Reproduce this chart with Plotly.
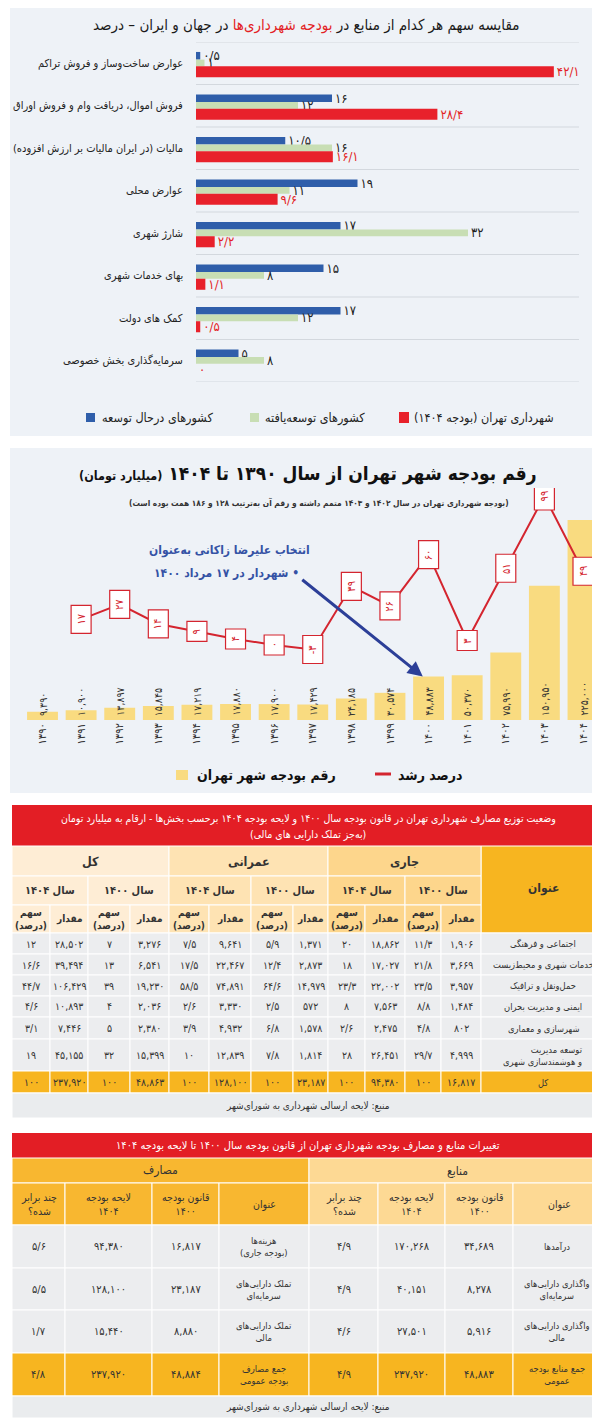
import plotly.graph_objects as go

W, H = 600, 1422
FONT = "DejaVu Sans Condensed, DejaVu Sans, sans-serif"

# ---------------- data: chart 1 (share of each source, percent) ----------------
c1_categories = [
    "عوارض ساخت‌وساز و فروش تراکم",
    "فروش اموال، دریافت وام و فروش اوراق",
    "مالیات (در ایران مالیات بر ارزش افزوده)",
    "عوارض محلی",
    "شارژ شهری",
    "بهای خدمات شهری",
    "کمک های دولت",
    "سرمایه‌گذاری بخش خصوصی",
]
c1_developing = [0.5, 16, 10.5, 19, 17, 15, 17, 5]
c1_developed = [1, 12, 16, 11, 32, 8, 12, 8]
c1_tehran = [42.1, 28.4, 16.1, 9.6, 2.2, 1.1, 0.5, 0]
c1_names = ["کشورهای درحال توسعه", "کشورهای توسعه‌یافته", "شهرداری تهران (بودجه ۱۴۰۴)"]

# ---------------- data: chart 2 (Tehran budget) ----------------
c2_years = [1390, 1391, 1392, 1393, 1394, 1395, 1396, 1397, 1398, 1399, 1400, 1401, 1402, 1403, 1404]
c2_budget = [9390, 10900, 13897, 15845, 17219, 17880, 17900, 17429, 24185, 30574, 48883, 50370, 75990, 150950, 225000]
c2_growth_years = [1391, 1392, 1393, 1394, 1395, 1396, 1397, 1398, 1399, 1400, 1401, 1402, 1403, 1404]
c2_growth = [17, 27, 14, 9, 4, 0, -3, 39, 26, 60, 3, 51, 99, 49]
c2_names = ["رقم بودجه شهر تهران", "درصد رشد"]

# ---------------- data: table 1 ----------------
t1_rows = ["اجتماعی و فرهنگی", "خدمات شهری و محیط‌زیست", "حمل‌ونقل و ترافیک",
           "ایمنی و مدیریت بحران", "شهرسازی و معماری", "توسعه مدیریت<br>و هوشمندسازی شهری", "کل"]
t1_jari_1400_amount = [1906, 3669, 3957, 1484, 802, 4999, 16817]
t1_jari_1400_share = [11.3, 21.8, 23.5, 8.8, 4.8, 29.7, 100]
t1_jari_1404_amount = [18862, 17027, 22002, 7563, 2475, 26451, 94380]
t1_jari_1404_share = [20, 18, 23.3, 8, 2.6, 28, 100]
t1_omrani_1400_amount = [1371, 2873, 14979, 572, 1578, 1814, 23187]
t1_omrani_1400_share = [5.9, 12.4, 64.6, 2.5, 6.8, 7.8, 100]
t1_omrani_1404_amount = [9641, 22467, 74891, 3330, 4932, 12839, 128100]
t1_omrani_1404_share = [7.5, 17.5, 58.5, 2.6, 3.9, 10, 100]
t1_kol_1400_amount = [3276, 6541, 19230, 2036, 2380, 15399, 48863]
t1_kol_1400_share = [7, 13, 39, 4, 5, 32, 100]
t1_kol_1404_amount = [28502, 39494, 106429, 10893, 7446, 45155, 237920]
t1_kol_1404_share = [12, 16.6, 44.7, 4.6, 3.1, 19, 100]

# ---------------- data: table 2 ----------------
t2_src_titles = ["درآمدها", "واگذاری دارایی‌های<br>سرمایه‌ای", "واگذاری دارایی‌های<br>مالی", "جمع منابع بودجه<br>عمومی"]
t2_src_1400 = [34689, 8278, 5916, 48883]
t2_src_1404 = [170268, 40151, 27501, 237920]
t2_src_ratio = [4.9, 4.9, 4.6, 4.9]
t2_use_titles = ["هزینه‌ها<br>(بودجه جاری)", "تملک دارایی‌های<br>سرمایه‌ای", "تملک دارایی‌های<br>مالی", "جمع مصارف<br>بودجه عمومی"]
t2_use_1400 = [16817, 23187, 8880, 48884]
t2_use_1404 = [94380, 128100, 15440, 237920]
t2_use_ratio = [5.6, 5.5, 1.7, 4.8]

# ---------------- helpers ----------------
FA = str.maketrans("0123456789", "۰۱۲۳۴۵۶۷۸۹")


def fa(v, sep=True):
    if isinstance(v, float) and not v.is_integer():
        s = f"{v:.1f}".replace(".", "/")
    else:
        s = f"{int(v):,}" if sep else str(int(v))
    return s.translate(FA)


def rtl(s):
    return "<br>".join("\u200f" + p + "\u200f" for p in s.split("<br>"))


def px(x):
    return x / W


def py(y):
    return 1 - y / H


shapes, annos = [], []


def rect(x0, y0, x1, y1, fill, line=None, lw=0, layer="below"):
    shapes.append(dict(type="rect", xref="paper", yref="paper", x0=px(x0), x1=px(x1),
                       y0=py(y1), y1=py(y0), fillcolor=fill,
                       line=dict(color=line or fill, width=lw), layer=layer))


def text(x, y, s, size=11, color="#222", bold=False, xanchor="center", yanchor="middle", align="center", family=FONT):
    if bold:
        s = f"<b>{s}</b>"
    annos.append(dict(xref="paper", yref="paper", x=px(x), y=py(y), text=s, showarrow=False,
                      font=dict(family=family, size=size, color=color),
                      xanchor=xanchor, yanchor=yanchor, align=align))


BLUE, GREEN, RED = "#2f5eaa", "#c8deb4", "#e8212b"
YELLOW = "#f9db80"
LINE_RED = "#d4252f"
BG = "#eef2f7"

fig = go.Figure()

# ================= SECTION 1 =================
rect(2, 0, 598, 428, BG)
text(298, 17, rtl("مقایسه سهم هر کدام از منابع در <span style='color:#e31e25'>بودجه شهرداری‌ها</span> در جهان و ایران – درصد"),
     size=15, color="#1a1a1a")

rows = list(range(len(c1_categories)))
for vals, col, off, wd, tcol in [
    (c1_developing, BLUE, -0.266, 0.18, "#222"),
    (c1_developed, GREEN, -0.086, 0.156, "#222"),
    (c1_tehran, RED, 0.07, 0.26, "#e31e25"),
]:
    fig.add_trace(go.Bar(
        y=rows, x=vals, orientation="h", width=wd, offset=off, marker=dict(color=col, line=dict(width=0)),
        text=[fa(v) for v in vals], textposition="outside", textangle=0, constraintext="none",
        textfont=dict(family=FONT, size=13, color=tcol), cliponaxis=False,
        xaxis="x", yaxis="y", hoverinfo="skip"))

for i in range(len(c1_categories) + 1):
    shapes.append(dict(type="line", xref="x domain", yref="y", x0=0, x1=1, y0=i - 0.5, y1=i - 0.5,
                       line=dict(color="#d3d8de", width=1), layer="below"))
for i, c in enumerate(c1_categories):
    annos.append(dict(xref="paper", yref="y", x=px(177), y=i, text=rtl(c), showarrow=False,
                      xanchor="right", yanchor="middle", font=dict(family=FONT, size=11, color="#222")))

# legend 1
rect(78, 405, 87, 414, BLUE)
text(92, 410, rtl(c1_names[0]), size=12.5, xanchor="left")
rect(242, 405, 251, 414, GREEN)
text(255, 410, rtl(c1_names[1]), size=12.5, xanchor="left")
rect(391, 404, 401, 415, RED)
text(404, 410, rtl(c1_names[2]), size=12.5, xanchor="left")

# ================= SECTION 2 =================
rect(2, 440, 598, 785, BG)
text(300, 466, rtl("<b>رقم بودجه شهر تهران از سال ۱۳۹۰ تا ۱۴۰۴ <span style='font-size:12.5px'>(میلیارد تومان)</span></b>"),
     size=19, color="#111")
text(311, 495, rtl("(بودجه شهرداری تهران در سال ۱۴۰۲ و ۱۴۰۳ متمم داشته و رقم آن به‌ترتیب ۱۲۸ و ۱۸۶ همت بوده است)"),
     size=8.3, bold=True, color="#333")

fig.add_trace(go.Bar(x=c2_years, y=c2_budget, width=0.8, marker=dict(color=YELLOW, line=dict(width=0)),
                     xaxis="x2", yaxis="y2", hoverinfo="skip"))
fig.add_trace(go.Scatter(x=c2_growth_years, y=c2_growth, mode="lines", line=dict(color=LINE_RED, width=2),
                         xaxis="x2", yaxis="y3", hoverinfo="skip"))

for yr, v in zip(c2_years, c2_budget):
    annos.append(dict(xref="x2", yref="y2", x=yr, y=0, text=fa(v), showarrow=False, textangle=-90,
                      xanchor="center", yanchor="bottom", yshift=2,
                      font=dict(family=FONT, size=10.5, color="#333")))

for yr, g in zip(c2_growth_years, c2_growth):
    lab = fa(g) if g >= 0 else "-" + fa(-g)
    h = 28 if len(lab) > 1 else 20
    shapes.append(dict(type="rect", xref="x2", yref="y3", xsizemode="pixel", ysizemode="pixel",
                       xanchor=yr, yanchor=g, x0=-10, x1=10, y0=-h / 2, y1=h / 2,
                       fillcolor="white", line=dict(color=LINE_RED, width=1.2), layer="above"))
    annos.append(dict(xref="x2", yref="y3", x=yr, y=g, text=lab, showarrow=False, textangle=-90,
                      xanchor="center", yanchor="middle",
                      font=dict(family=FONT, size=11, color=LINE_RED)))

text(221, 542, rtl("انتخاب علیرضا زاکانی به‌عنوان"), size=12, bold=True, color="#3552a5")
text(293, 565, rtl("• شهردار در ۱۷ مرداد ۱۴۰۰"), size=12, bold=True, color="#3552a5", xanchor="right")
annos.append(dict(xref="x2", yref="y2", x=1399.85, y=48883, text="", showarrow=True,
                  ax=-122, ay=-98, axref="pixel", ayref="pixel",
                  arrowhead=2, arrowsize=1, arrowwidth=3, arrowcolor="#2c3f98"))

# legend 2
rect(168, 762, 180, 772, YELLOW)
text(187, 767, rtl(c2_names[0]), size=14, bold=True, xanchor="left", color="#111")
shapes.append(dict(type="line", xref="paper", yref="paper", x0=px(367), x1=px(383), y0=py(766), y1=py(766),
                   line=dict(color=LINE_RED, width=3)))
text(388, 767, rtl(c2_names[1]), size=14, bold=True, xanchor="left", color="#111")

# ================= TABLE 1 =================
T1_X = [4, 42, 80, 122, 161, 201, 243, 285, 320, 357, 397, 433, 473, 597]
BODY = "#ecedef"
AMBER = "#f7b520"
TRED = "#e31e25"
GRP = ["#feedd5", "#fee3b3", "#fdd68c"]  # کل ، عمرانی ، جاری

rect(T1_X[0], 797, T1_X[-1], 838, TRED)
text(300, 811, rtl("وضعیت توزیع مصارف شهرداری تهران در قانون بودجه سال ۱۴۰۰ و لایحه بودجه ۱۴۰۴ برحسب بخش‌ها - ارقام به میلیارد تومان"),
     size=10.5, color="white")
text(300, 826, rtl("(به‌جز تملک دارایی های مالی)"), size=10.5, color="white")

rect(T1_X[12], 838, T1_X[13], 925, AMBER, "white", 1)
text((T1_X[12] + T1_X[13]) / 2, 881, rtl("عنوان"), size=12, bold=True, color="#333")
grp_titles = ["کل", "عمرانی", "جاری"]
for g in range(3):
    x0, x1 = T1_X[4 * g], T1_X[4 * g + 4]
    rect(x0, 838, x1, 868, GRP[g], "white", 1)
    text((x0 + x1) / 2, 853, rtl(grp_titles[g]), size=12.5, bold=True, color="#333")
    for k, yl in enumerate(["سال ۱۴۰۴", "سال ۱۴۰۰"]):
        a, b = T1_X[4 * g + 2 * k], T1_X[4 * g + 2 * k + 2]
        rect(a, 868, b, 897, GRP[g], "white", 1)
        text((a + b) / 2, 882.5, rtl(yl), size=11, bold=True, color="#333")
        for j, lab in enumerate(["سهم<br>(درصد)", "مقدار"]):
            c0, c1 = T1_X[4 * g + 2 * k + j], T1_X[4 * g + 2 * k + j + 1]
            rect(c0, 897, c1, 925, GRP[g], "white", 1)
            text((c0 + c1) / 2, 911, rtl(lab), size=10, bold=True, color="#333")

t1_cols = [t1_kol_1404_share, t1_kol_1404_amount, t1_kol_1400_share, t1_kol_1400_amount,
           t1_omrani_1404_share, t1_omrani_1404_amount, t1_omrani_1400_share, t1_omrani_1400_amount,
           t1_jari_1404_share, t1_jari_1404_amount, t1_jari_1400_share, t1_jari_1400_amount]
T1_Y = [925, 946, 967, 988, 1009, 1031, 1063, 1085]
for r in range(len(t1_rows)):
    y0, y1 = T1_Y[r], T1_Y[r + 1]
    fill = AMBER if r == len(t1_rows) - 1 else BODY
    for c in range(12):
        rect(T1_X[c], y0, T1_X[c + 1], y1, fill, "white", 1)
        text((T1_X[c] + T1_X[c + 1]) / 2, (y0 + y1) / 2, fa(t1_cols[c][r]), size=10.5, color="#333")
    rect(T1_X[12], y0, T1_X[13], y1, fill, "white", 1)
    text((T1_X[12] + T1_X[13]) / 2, (y0 + y1) / 2, rtl(t1_rows[r]), size=9.3, color="#333", align="right")
rect(T1_X[0], 1085, T1_X[-1], 1110, "#eaecee", "white", 1)
text(300, 1098, rtl("منبع: لایحه ارسالی شهرداری به شورای‌شهر"), size=10, color="#333")

# ================= TABLE 2 =================
T2_X = [4, 57, 144, 211, 301, 370, 437, 505, 597]
USE_C, SRC_C = "#f8b730", "#fdd994"
rect(T2_X[0], 1125, T2_X[-1], 1150, TRED)
text(300, 1137.5, rtl("تغییرات منابع و مصارف بودجه شهرداری تهران از قانون بودجه سال ۱۴۰۰ تا لایحه بودجه ۱۴۰۴"),
     size=11, color="white")
rect(T2_X[0], 1150, T2_X[4], 1175, USE_C, "white", 1)
text((T2_X[0] + T2_X[4]) / 2, 1162.5, rtl("مصارف"), size=12, color="#333")
rect(T2_X[4], 1150, T2_X[8], 1175, SRC_C, "white", 1)
text((T2_X[4] + T2_X[8]) / 2, 1162.5, rtl("منابع"), size=12, color="#333")
hdrs = ["چند برابر<br>شده؟", "لایحه بودجه<br>۱۴۰۴", "قانون بودجه<br>۱۴۰۰", "عنوان"]
for side in range(2):
    for j, hname in enumerate(hdrs):
        c = 4 * side + j
        rect(T2_X[c], 1175, T2_X[c + 1], 1217, USE_C if side == 0 else SRC_C, "white", 1)
        text((T2_X[c] + T2_X[c + 1]) / 2, 1196, rtl(hname), size=10.5, color="#333")

T2_Y = [1217, 1260, 1302, 1345, 1388]
for r in range(4):
    y0, y1 = T2_Y[r], T2_Y[r + 1]
    fill = AMBER if r == 3 else BODY
    cells = [fa(t2_use_ratio[r]), fa(t2_use_1404[r]), fa(t2_use_1400[r]), rtl(t2_use_titles[r]),
             fa(t2_src_ratio[r]), fa(t2_src_1404[r]), fa(t2_src_1400[r]), rtl(t2_src_titles[r])]
    for c, s in enumerate(cells):
        rect(T2_X[c], y0, T2_X[c + 1], y1, fill, "white", 1)
        is_title = c in (3, 7)
        cx = (T2_X[c] + T2_X[c + 1]) / 2 - (2 if c == 7 else 0)
        text(cx, (y0 + y1) / 2, s, size=9.3 if is_title else 11, color="#333")
rect(T2_X[0], 1388, T2_X[-1], 1410, "#eaecee", "white", 1)
text(300, 1399, rtl("منبع: لایحه ارسالی شهرداری به شورای‌شهر"), size=10, color="#333")

# ================= layout =================
fig.update_layout(
    width=W, height=H, margin=dict(l=0, r=0, t=0, b=0),
    paper_bgcolor="white", plot_bgcolor="rgba(0,0,0,0)",
    showlegend=False, barmode="overlay",
    font=dict(family=FONT),
    xaxis=dict(domain=[px(188), px(571)], range=[0, 45.06], visible=False, fixedrange=True),
    yaxis=dict(domain=[py(374), py(34)], range=[7.5, -0.5], visible=False, fixedrange=True),
    xaxis2=dict(domain=[px(15.2), px(594.3)], range=[1389.5, 1404.5], anchor="y2",
                tickmode="array", tickvals=c2_years, ticktext=[fa(y, sep=False) for y in c2_years],
                tickangle=-90, tickfont=dict(family=FONT, size=11, color="#333"),
                showgrid=False, zeroline=False, showline=False, ticks=""),
    yaxis2=dict(domain=[py(712), py(480)], range=[0, 261000], visible=False),
    yaxis3=dict(domain=[py(712), py(480)], range=[-49.83, 104.32], overlaying="y2", visible=False),
    shapes=shapes, annotations=annos,
)

fig.write_html("out.html")
